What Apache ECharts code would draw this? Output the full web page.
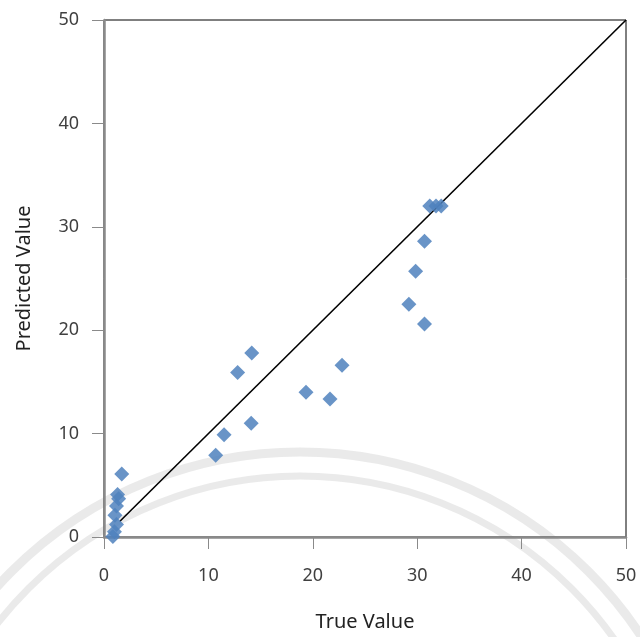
<!DOCTYPE html>
<html>
<head>
<meta charset="utf-8">
<script src="https://cdn.jsdelivr.net/npm/echarts@6/dist/echarts.min.js"></script>
<style>
  html, body { margin: 0; padding: 0; background: #fff; }
  #chart { width: 640px; height: 637px; }
</style>
</head>
<body>
<div id="chart"></div>
<script>
// Observed (true) vs. model-predicted values
const trueValues = [1.7, 1.3, 1.4, 1.2, 1.05, 1.2, 1.0, 0.85,
  10.7, 11.5, 14.1, 12.8, 14.15, 19.35, 21.65, 22.8,
  29.2, 30.7, 29.85, 30.7, 31.2, 31.8, 32.3];
const predictedValues = [6.1, 4.1, 3.7, 3.0, 2.1, 1.2, 0.5, 0.05,
  7.9, 9.9, 11.0, 15.9, 17.8, 14.0, 13.35, 16.6,
  22.5, 20.6, 25.7, 28.6, 32.0, 32.0, 32.0];
// 1:1 reference line endpoints
const identityLine = [[1.5, 1.5], [50, 50]];
const axisTicks = [0, 10, 20, 30, 40, 50];

const points = trueValues.map((v, i) => [v, predictedValues[i]]);

const chart = echarts.init(document.getElementById('chart'), null, { renderer: 'canvas' });

const labelFont = { fontFamily: 'Noto Sans', fontSize: 18, color: '#404040' };
const axisCommon = {
  type: 'value',
  min: axisTicks[0],
  max: axisTicks[axisTicks.length - 1],
  interval: 10,
  splitLine: { show: false },
  axisLine: { show: true, lineStyle: { color: '#8a8a8a', width: 2.5 } },
  axisTick: { show: true, inside: false, length: 12, lineStyle: { color: '#8a8a8a', width: 1 } },
  nameLocation: 'middle',
  nameTextStyle: { fontFamily: 'Noto Sans', fontSize: 20, color: '#222' }
};

// faint seal watermark arcs behind the plot
const watermark = [
  { type: 'circle', shape: { cx: 300, cy: 860, r: 408 }, style: { fill: 'none', stroke: 'rgba(150,150,150,0.2)', lineWidth: 9 }, z: -10, silent: true },
  { type: 'circle', shape: { cx: 300, cy: 860, r: 384 }, style: { fill: 'none', stroke: 'rgba(150,150,150,0.2)', lineWidth: 7 }, z: -10, silent: true }
];

chart.setOption({
  animation: false,
  backgroundColor: '#fff',
  graphic: watermark,
  grid: {
    left: 104, right: 14, top: 20, bottom: 100,
    show: true, borderColor: '#000', borderWidth: 1, backgroundColor: 'transparent'
  },
  xAxis: Object.assign({}, axisCommon, {
    name: 'True Value',
    nameGap: 75,
    axisLabel: Object.assign({ margin: 30 }, labelFont)
  }),
  yAxis: Object.assign({}, axisCommon, {
    name: 'Predicted Value',
    nameGap: 70,
    axisLabel: Object.assign({ margin: 25 }, labelFont)
  }),
  series: [
    {
      type: 'line',
      data: identityLine,
      symbol: 'none',
      lineStyle: { color: '#000', width: 1.6 },
      z: 2
    },
    {
      type: 'scatter',
      data: points,
      symbol: 'diamond',
      symbolSize: 15,
      itemStyle: { color: '#4f81bd', opacity: 0.85 },
      z: 3
    }
  ]
});
</script>
</body>
</html>
